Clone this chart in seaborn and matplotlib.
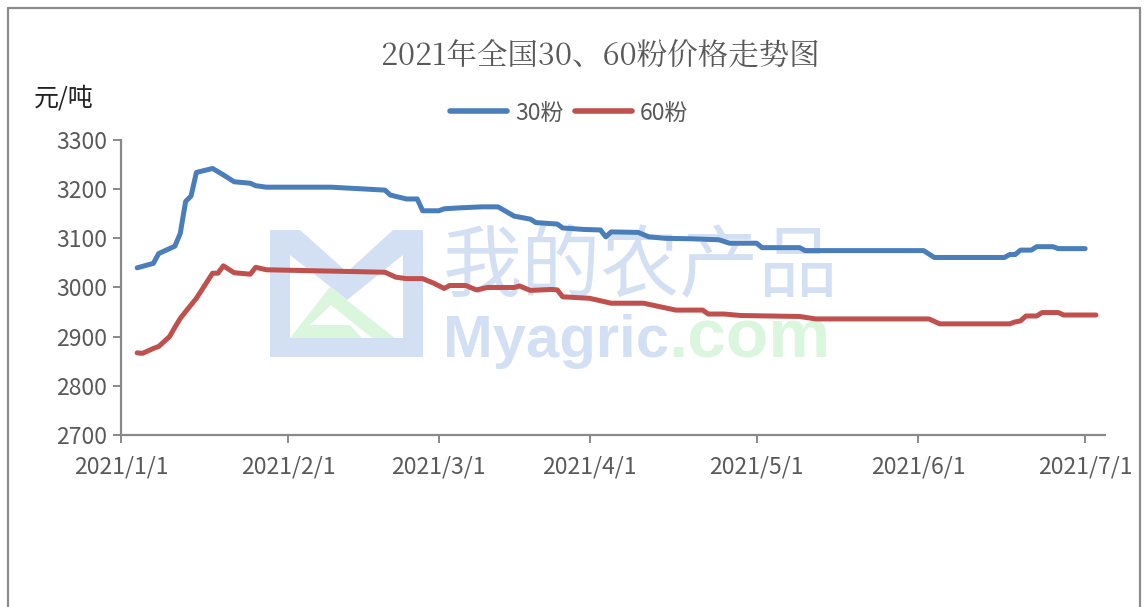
"""2021 national 30/60 flour price trend, redrawn with seaborn."""

import matplotlib

matplotlib.use("Agg")

import matplotlib.pyplot as plt
import pandas as pd
import seaborn as sns
from matplotlib.lines import Line2D
from matplotlib.patches import Polygon

# day index counted from 2021/1/1 along the chart's x axis
DAYS_30 = [3, 6, 7, 10, 11, 12, 13, 14, 17, 19, 21, 24, 25, 27, 39, 49, 50, 53, 55, 56,
           59, 60, 63, 67, 70, 73, 76, 77, 81, 82, 86, 89, 90, 91, 96, 98, 101, 106, 111,
           113, 118, 119, 126, 127, 149, 151, 164, 165, 166, 167, 169, 170, 173, 174, 179]
PRICE_30 = [3040, 3049, 3069, 3084, 3110, 3175, 3186, 3234, 3242, 3229, 3215, 3212, 3207,
            3204, 3204, 3198, 3188, 3180, 3180, 3156, 3156, 3160, 3162, 3164, 3164, 3145,
            3139, 3132, 3129, 3121, 3118, 3117, 3103, 3113, 3112, 3103, 3100, 3099, 3097,
            3090, 3090, 3081, 3081, 3075, 3075, 3061, 3061, 3067, 3067, 3076, 3076, 3083,
            3083, 3079, 3079]

DAYS_60 = [3, 4, 6, 7, 9, 10, 11, 12, 14, 17, 18, 19, 21, 24, 25, 27, 49, 51, 53, 56, 58,
           60, 61, 64, 66, 68, 73, 74, 76, 80, 81, 82, 87, 89, 91, 97, 100, 103, 108, 109,
           112, 115, 126, 129, 150, 152, 165, 166, 167, 168, 170, 171, 174, 175, 181]
PRICE_60 = [2867, 2866, 2876, 2880, 2900, 2919, 2937, 2951, 2978, 3029, 3029, 3044, 3030,
            3027, 3041, 3036, 3031, 3021, 3018, 3018, 3009, 2998, 3004, 3004, 2995, 3000,
            3000, 3003, 2994, 2996, 2995, 2981, 2978, 2973, 2968, 2968, 2961, 2954, 2954,
            2946, 2946, 2943, 2941, 2936, 2936, 2926, 2926, 2930, 2932, 2942, 2942, 2949,
            2949, 2944, 2944]

TICK_DAYS = [0, 31, 59, 87, 118, 148, 179]
TICK_LABELS = ["2021/1/1", "2021/2/1", "2021/3/1", "2021/4/1", "2021/5/1", "2021/6/1", "2021/7/1"]
Y_TICKS = [2700, 2800, 2900, 3000, 3100, 3200, 3300]

COLORS = {"30粉": "#4A7EBB", "60粉": "#C0504D"}
GREY = "#595959"
WM_BLUE = "#D3E0F4"
WM_GREEN = "#DAF6DD"

W, H = 1147, 607


def px(x, y):
    """Pixel position (from top-left) to figure fraction."""
    return x / W, 1 - y / H


sns.set_theme(style="white")
plt.rcParams["font.family"] = ["Noto Sans CJK SC", "DejaVu Sans"]

df = pd.concat([
    pd.DataFrame({"day": DAYS_30, "price": PRICE_30, "series": "30粉"}),
    pd.DataFrame({"day": DAYS_60, "price": PRICE_60, "series": "60粉"}),
], ignore_index=True)

fig = plt.figure(figsize=(11.47, 6.07), dpi=100)
ax = fig.add_axes([0.1055, 0.2834, 0.8575, 0.486])

# faint site watermark behind the lines (logo + name)
tf = fig.transFigure
logo_m = [(270, 230), (300, 230), (347, 272), (393, 230), (423, 230), (423, 357), (270, 357)]
ax.add_patch(Polygon([px(*p) for p in logo_m], closed=True, transform=tf,
                     facecolor=WM_BLUE, edgecolor="none", zorder=0))
inner = [(290, 255), (290, 338), (403, 338), (403, 255), (347, 300)]
ax.add_patch(Polygon([px(*p) for p in inner], closed=True, transform=tf,
                     facecolor="white", edgecolor="none", zorder=0.1))
logo_a = [(290, 338), (330, 287), (395, 338), (372, 338), (331, 305), (310, 325),
          (350, 325), (362, 338)]
ax.add_patch(Polygon([px(*p) for p in logo_a], closed=True, transform=tf,
                     facecolor=WM_GREEN, edgecolor="none", zorder=0.2))
ax.text(*px(443, 268), "我的农产品", transform=tf, fontsize=57, color=WM_BLUE,
        ha="left", va="center", zorder=0.3)
ax.text(*px(443, 357), "Myagric", transform=tf, fontsize=43, color=WM_BLUE,
        ha="left", va="baseline", fontweight="bold", family="Liberation Sans", zorder=0.3)
ax.text(*px(668, 357), ".com", transform=tf, fontsize=50, color=WM_GREEN,
        ha="left", va="baseline", fontweight="bold", family="Liberation Sans", zorder=0.3)

sns.lineplot(data=df, x="day", y="price", hue="series", palette=COLORS, linewidth=3.6,
             ax=ax, legend=False, estimator=None, sort=False, zorder=3)

ax.set_xlim(0, 182.6)
ax.set_ylim(2700, 3300)
ax.set_xticks(TICK_DAYS, TICK_LABELS)
ax.set_yticks(Y_TICKS)
ax.set_xlabel("")
ax.set_ylabel("")
for side in ("top", "right"):
    ax.spines[side].set_visible(False)
for side in ("left", "bottom"):
    ax.spines[side].set_color("#898989")
    ax.spines[side].set_linewidth(1.6)
    ax.spines[side].set_zorder(4)
ax.tick_params(axis="y", length=6, width=1.4, color="#898989", direction="out",
               labelsize=16.5, labelcolor=GREY, pad=4, left=True)
ax.tick_params(axis="x", length=6, width=1.4, color="#898989", direction="out",
               labelsize=16.5, labelcolor=GREY, pad=9, bottom=True)

fig.text(*px(600, 57), "2021年全国30、60粉价格走势图", fontsize=22, color=GREY,
         ha="center", va="center", family=["Noto Serif CJK SC", "Noto Sans CJK SC", "DejaVu Sans"])
fig.text(*px(34, 98), "元/吨", fontsize=18, color="#222222", ha="left", va="center")

handles = [Line2D([], [], color=COLORS[k], linewidth=4) for k in COLORS]
fig.legend(handles, list(COLORS), loc="center", bbox_to_anchor=px(569, 113), ncol=2,
           frameon=False, fontsize=16.5, labelcolor=GREY, handlelength=2.5,
           handletextpad=0.35, columnspacing=0.5)

# outer frame of the original chart box
frame = dict(color="#8C8C8C", linewidth=1.6, transform=tf)
fig.add_artist(Line2D([8 / W, 1140 / W], [1 - 8 / H, 1 - 8 / H], **frame))
fig.add_artist(Line2D([8 / W, 8 / W], [0, 1 - 8 / H], **frame))
fig.add_artist(Line2D([1140 / W, 1140 / W], [0, 1 - 8 / H], **frame))

fig.savefig("out.png", dpi=100, facecolor="white")
